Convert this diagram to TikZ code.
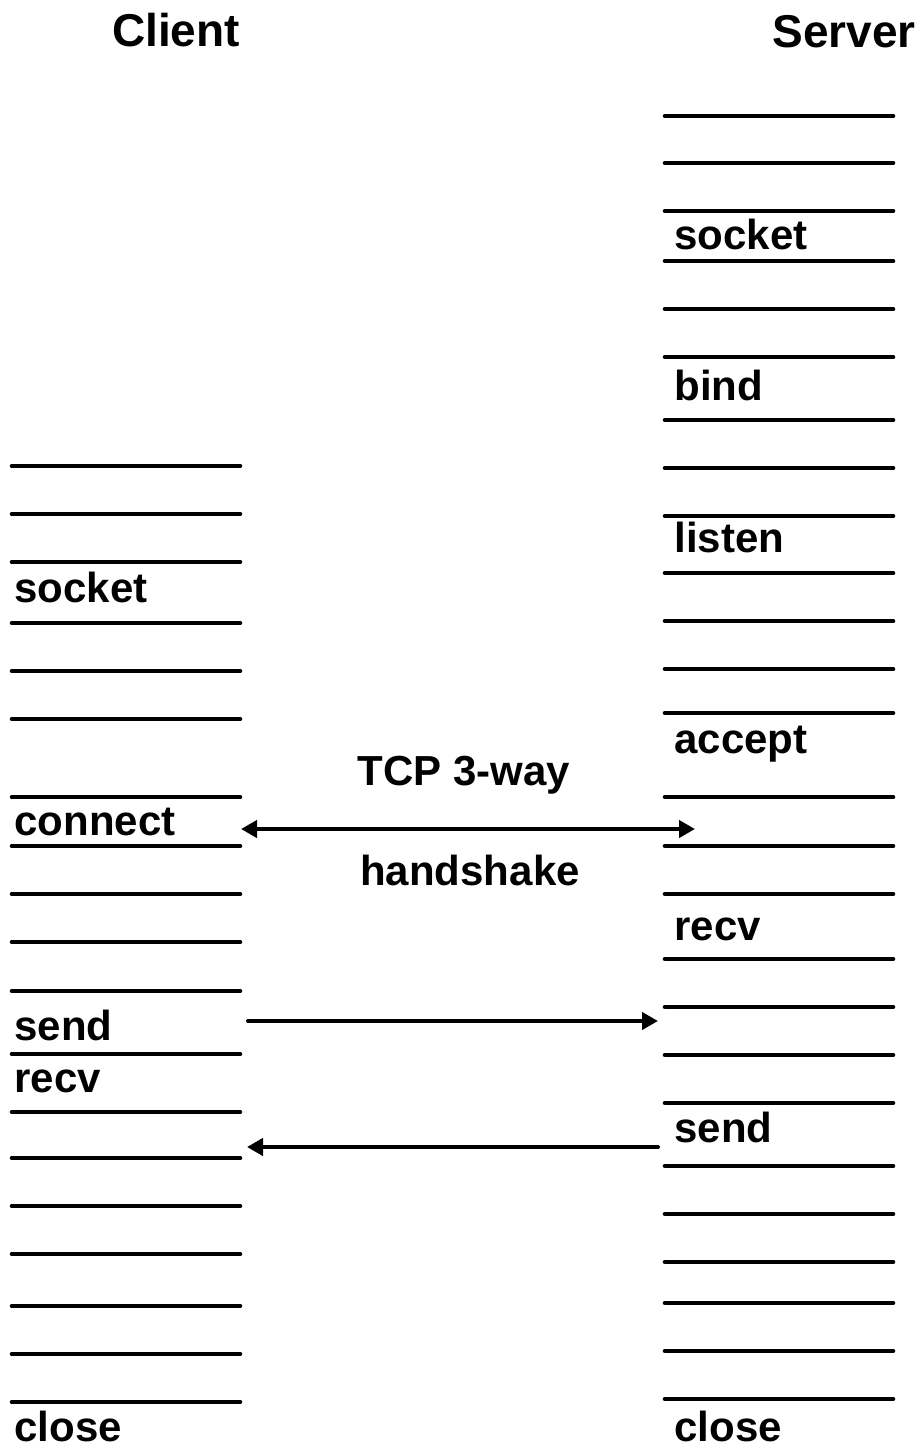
\documentclass[tikz,border=0pt]{standalone}
\usepackage{fontspec}
\setmainfont{Liberation Sans}
\usetikzlibrary{arrows.meta,positioning}
\tikzset{
  rung/.style={line width=2.3pt,line cap=round},
  call/.style={anchor=base west,inner sep=0pt,font=\fontsize{21}{25}\selectfont\bfseries},
  side/.style={anchor=base,inner sep=0pt,font=\fontsize{23}{28}\selectfont\bfseries},
  note/.style={anchor=base,inner sep=0pt,font=\fontsize{21}{25}\selectfont\bfseries},
  message/.style={-{Triangle[length=8pt,width=8.5pt]},line width=2pt,line cap=round},
  shake/.style={{Triangle[length=8pt,width=8.5pt]}-{Triangle[length=8pt,width=8.5pt]},line width=2pt}
}
\begin{document}
\begin{tikzpicture}[x=0.5pt,y=-0.5pt]
  \useasboundingbox (0,0) rectangle (924,1449);
  \node[side] (client) at (176,47) {Client};
  \node[side] (server) at (844,48) {Server};
  % client time line
  \foreach \y in {466,514,562,623,671,719,797,846,894,942,991,1054,1112,1158,1206,1254,1306,1354,1402}
    \draw[rung] (12,\y) -- (240,\y);
  % server time line
  \foreach \y in {116,163,211,261,309,357,420,468,516,573,621,669,713,797,846,894,959,1007,1055,1103,1166,1214,1262,1303,1351,1399}
    \draw[rung] (665,\y) -- (893,\y);
  \node[call] (csocket) at (14,602) {socket};
  \node[call] (cconnect) at (14,835) {connect};
  \node[call] (csend) at (14,1040) {send};
  \node[call] (crecv) at (14,1092) {recv};
  \node[call] (cclose) at (14,1441) {close};
  \node[call] (ssocket) at (674,250) {socket};
  \node[call] (sbind) at (674,400) {bind};
  \node[call] (slisten) at (674,552) {listen};
  \node[call] (saccept) at (674,753) {accept};
  \node[call] (srecv) at (674,940) {recv};
  \node[call] (ssend) at (674,1142) {send};
  \node[call] (sclose) at (674,1441) {close};
  \coordinate (hsc) at (241,829);
  \coordinate (hss) at (695,829);
  \coordinate (reqc) at (248,1021);
  \coordinate (reqs) at (658,1021);
  \coordinate (repc) at (247,1147);
  \coordinate (reps) at (658,1147);
  \draw[shake] (hsc) -- (hss);
  \node[note] (tcp) at (464,785) {TCP 3-way};
  \node[note] (hand) at (470,885) {handshake};
  \draw[message] (reqc) -- (reqs);
  \draw[message] (reps) -- (repc);
\end{tikzpicture}
\end{document}
